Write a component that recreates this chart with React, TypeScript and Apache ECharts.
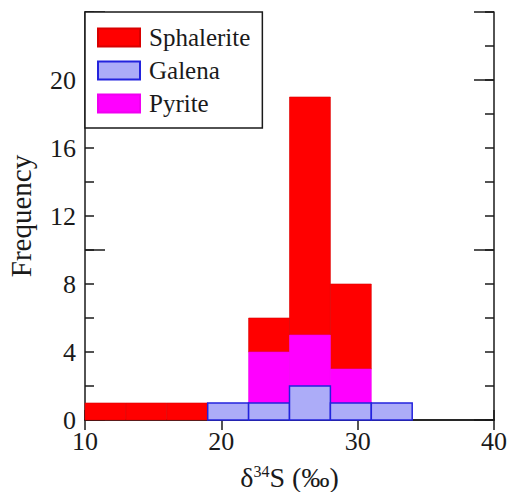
import React, { useEffect, useRef } from "react";
import * as echarts from "echarts";

const binStarts = [10, 13, 16, 19, 22, 25, 28, 31];
const binWidth = 3;
const galena = [0, 0, 0, 1, 1, 2, 1, 1];
const pyrite = [0, 0, 0, 0, 3, 3, 2, 0];
const sphalerite = [1, 1, 1, 0, 2, 14, 5, 0];
const xTicks = [10, 20, 30, 40];
const yLabels = [0, 4, 8, 12, 16, 20];

const FONT = "Liberation Serif";
const TXT = "#1a1a1a";

function buildData(vals: number[], bases: number[]) {
  const out: number[][] = [];
  vals.forEach((v, i) => {
    if (v > 0) out.push([binStarts[i], binStarts[i] + binWidth, bases[i], bases[i] + v]);
  });
  return out;
}

export default function App() {
  const ref = useRef<HTMLDivElement>(null);
  useEffect(() => {
    if (!ref.current) return;
    const chart = echarts.init(ref.current, undefined, { renderer: "svg" });
    const zero = binStarts.map(() => 0);
    const gTop = galena.slice();
    const pTop = galena.map((g, i) => g + pyrite[i]);
    const mk = (name: string, data: number[][], fill: string, stroke: string, lw: number, z: number) => ({
      type: "custom",
      name,
      z,
      xAxisIndex: 0,
      yAxisIndex: 0,
      itemStyle: { color: fill, borderColor: stroke, borderWidth: lw },
      data,
      renderItem: (params: any, api: any) => {
        const a = api.coord([api.value(0), api.value(3)]);
        const b = api.coord([api.value(1), api.value(2)]);
        return {
          type: "rect",
          shape: { x: a[0], y: a[1], width: b[0] - a[0], height: b[1] - a[1] },
          style: { fill, stroke, lineWidth: lw },
        };
      },
    });
    const yBase = {
      type: "value",
      min: 0,
      max: 24,
      interval: 2,
      axisLine: { show: true, lineStyle: { color: TXT, width: 1.5 } },
      splitLine: { show: false },
    };
    chart.setOption({
      animation: false,
      grid: { left: 85, right: 13, top: 12, bottom: 72, containLabel: false, outerBoundsMode: "none" },
      legend: {
        data: ["Sphalerite", "Galena", "Pyrite"],
        orient: "vertical",
        left: 85,
        top: 12,
        icon: "rect",
        itemWidth: 42,
        itemHeight: 18,
        itemGap: 8,
        padding: [13, 12, 12, 12],
        borderColor: TXT,
        borderWidth: 1.5,
        backgroundColor: "#fff",
        textStyle: { fontFamily: FONT, fontSize: 25, color: TXT, lineHeight: 25, padding: [0, 0, 0, 4] },
      },
      xAxis: [
        {
          type: "value",
          min: 10,
          max: 40,
          interval: 10,
          position: "bottom",
          name: "{d|δ}{s|34}{d|S (‰)}",
          nameLocation: "middle",
          nameGap: 43,
          nameTextStyle: {
            rich: {
              d: { fontFamily: FONT, fontSize: 28, color: TXT },
              s: { fontFamily: FONT, fontSize: 16, color: TXT, verticalAlign: "top", padding: [0, 0, 10, 0] },
            },
          },
          axisLine: { show: true, lineStyle: { color: TXT, width: 1.5 } },
          axisTick: { show: true, inside: true, length: 10, lineStyle: { color: TXT, width: 1.5 } },
          axisLabel: {
            fontFamily: FONT,
            fontSize: 26,
            color: TXT,
            margin: 8,
            formatter: (v: number) => (xTicks.includes(v) ? String(v) : ""),
          },
          splitLine: { show: false },
        },
        {
          type: "value",
          min: 10,
          max: 40,
          interval: 10,
          position: "top",
          axisLine: { show: true, lineStyle: { color: TXT, width: 1.5 } },
          axisTick: { show: true, inside: true, length: 10, lineStyle: { color: TXT, width: 1.5 } },
          axisLabel: { show: false },
          splitLine: { show: false },
        },
      ],
      yAxis: [
        {
          ...yBase,
          position: "left",
          name: "Frequency",
          nameLocation: "middle",
          nameGap: 50,
          nameTextStyle: { fontFamily: FONT, fontSize: 29, color: TXT },
          axisTick: { show: true, inside: true, length: 9, lineStyle: { color: TXT, width: 1.5 } },
          axisLabel: {
            fontFamily: FONT,
            fontSize: 26,
            color: TXT,
            margin: 9,
            formatter: (v: number) => (yLabels.includes(v) ? String(v) : ""),
          },
        },
        {
          ...yBase,
          position: "right",
          axisTick: { show: true, inside: true, length: 9, lineStyle: { color: TXT, width: 1.5 } },
          axisLabel: { show: false },
        },
        {
          ...yBase,
          interval: 10,
          position: "left",
          axisLine: { show: false },
          axisTick: { show: true, inside: true, length: 20, lineStyle: { color: TXT, width: 1.5 } },
          axisLabel: { show: false },
        },
        {
          ...yBase,
          interval: 10,
          position: "right",
          axisLine: { show: false },
          axisTick: { show: true, inside: true, length: 20, lineStyle: { color: TXT, width: 1.5 } },
          axisLabel: { show: false },
        },
      ],
      series: [
        mk("Sphalerite", buildData(sphalerite, pTop), "#ff0000", "#d80000", 0.6, 2),
        mk("Pyrite", buildData(pyrite, gTop), "#ff00ff", "#f000f0", 0.6, 3),
        mk("Galena", buildData(galena, zero), "#acacf8", "#2323dd", 1.5, 4),
      ],
    });
    return () => chart.dispose();
  }, []);
  return (
    <div
      ref={ref}
      style={{ position: "fixed", left: 0, top: 0, width: 507, height: 492, background: "#fff" }}
    />
  );
}
